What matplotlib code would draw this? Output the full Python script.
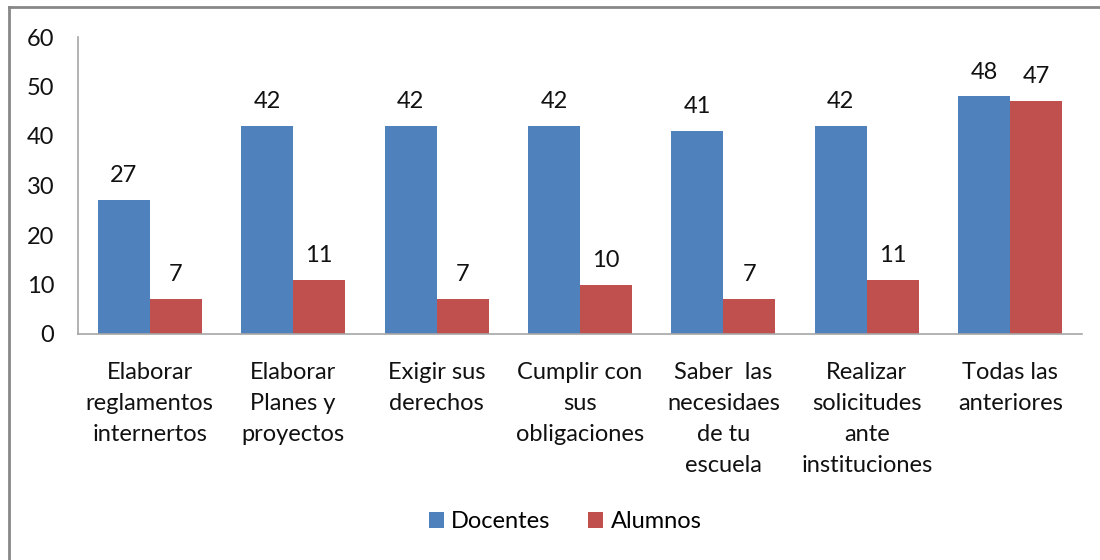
import matplotlib
matplotlib.use("Agg")
import matplotlib.pyplot as plt
import numpy as np
from matplotlib.lines import Line2D

# Chart data
categories = ["Elaborar\nreglamentos\ninternertos",
              "Elaborar\nPlanes y\nproyectos",
              "Exigir sus\nderechos",
              "Cumplir con\nsus\nobligaciones",
              "Saber  las\nnecesidaes\nde tu\nescuela",
              "Realizar\nsolicitudes\nante\ninstituciones",
              "Todas las\nanteriores"]
docentes = [27, 42, 42, 42, 41, 42, 48]
alumnos = [7, 11, 7, 10, 7, 11, 47]
series_names = ["Docentes", "Alumnos"]
yticks = [0, 10, 20, 30, 40, 50, 60]

plt.rcParams['font.family'] = ['Lato', 'DejaVu Sans']
fs = 17

fig = plt.figure(figsize=(11, 5.6), dpi=100)
ax = fig.add_axes([78/1100, 1 - 334/560, 1004/1100, 297/560])

x = np.arange(len(categories))
w = 0.363
b1 = ax.bar(x - w/2, docentes, w, color="#4F81BD", label=series_names[0])
b2 = ax.bar(x + w/2, alumnos, w, color="#C0504D", label=series_names[1])

for bars in (b1, b2):
    for r in bars:
        ax.annotate(str(int(r.get_height())), (r.get_x() + r.get_width()/2, r.get_height()),
                    xytext=(0, 10), textcoords="offset points",
                    ha="center", va="bottom", fontsize=fs, color="#111111")

ax.set_xlim(-0.5, len(categories) - 0.5)
ax.set_ylim(0, 60)
ax.set_yticks(yticks)
ax.set_xticks(x)
ax.set_xticklabels(categories, fontsize=fs, linespacing=1.6, color="#111111")
ax.tick_params(axis="y", length=0, pad=17, labelsize=fs, labelcolor="#111111")
ax.tick_params(axis="x", length=0, pad=20)
for s in ("top", "right"):
    ax.spines[s].set_visible(False)
for s in ("left", "bottom"):
    ax.spines[s].set_color("#A6A6A6")
    ax.spines[s].set_linewidth(1.2)

ax.legend(loc="center", bbox_to_anchor=(565/1100, 1 - 522/560), bbox_transform=fig.transFigure,
          ncol=2, frameon=False, fontsize=fs, handlelength=0.65, handleheight=0.65,
          handletextpad=0.3, columnspacing=1.6)

# outer chart border (left and top only visible)
fig.add_artist(Line2D([9/1100, 9/1100], [0, 1 - 7/560], transform=fig.transFigure,
                      color="#878787", linewidth=2))
fig.add_artist(Line2D([9/1100, 1], [1 - 7/560, 1 - 7/560], transform=fig.transFigure,
                      color="#878787", linewidth=2))

fig.savefig("out.png", dpi=100, facecolor="white")
